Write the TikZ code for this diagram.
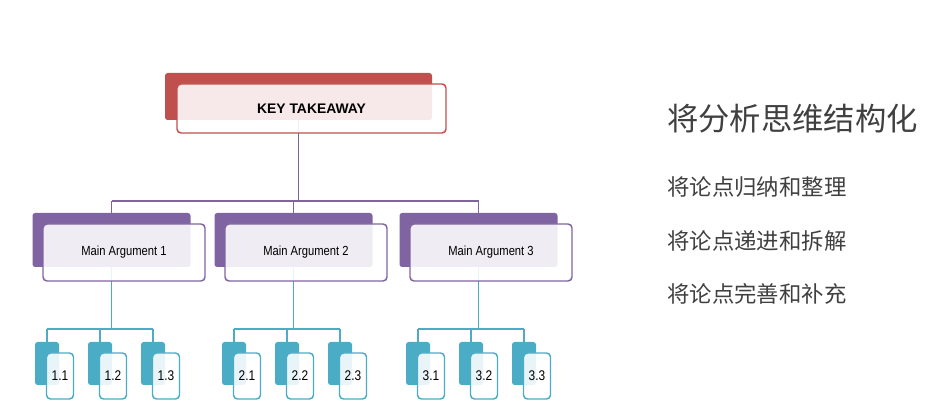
\documentclass[tikz,border=0pt]{standalone}
\usepackage{fontspec}
\setmainfont{Liberation Sans}
\newfontfamily\narrowfont[FakeStretch=0.85]{Liberation Sans}
\newfontfamily\cjkfont{Noto Sans CJK SC}
\definecolor{keyred}{HTML}{C0504D}
\definecolor{argpurple}{HTML}{8064A2}
\definecolor{subteal}{HTML}{4BACC6}
\definecolor{notegray}{HTML}{404040}
\pgfdeclarelayer{background}
\pgfsetlayers{background,main}

\begin{document}
\begin{tikzpicture}[x=0.75pt,y=-0.75pt,
    back/.style={rectangle, rounded corners=2pt, inner sep=0pt},
    front/.style={rectangle, rounded corners=3pt, inner sep=0pt, line width=1.1pt,
      fill=white, fill opacity=0.88, text opacity=1},
    link/.style={line width=1.4pt},
    note/.style={anchor=west, inner sep=0pt, text=notegray}]
\useasboundingbox (0,0) rectangle (943,416);

\node (keyb) [back, fill=keyred, minimum width=200.25pt, minimum height=35.25pt] at (298.5,96.5) {};
\node (key) [front, draw=keyred, minimum width=201.75pt, minimum height=36.75pt,
  font=\bfseries\fontsize{10.4}{12}\selectfont] at (311.5,108.5) {KEY TAKEAWAY};

\foreach \i/\x in {1/111.5,2/293.5,3/478.5} {
  \node (mab\i) [back, fill=argpurple, minimum width=118.5pt, minimum height=40.5pt] at (\x,240) {};
  \node (ma\i) [front, draw=argpurple, minimum width=121.5pt, minimum height=42.75pt,
    font=\narrowfont\fontsize{9.9}{11}\selectfont] at (\x+12.5,252.5) {Main Argument \i};
}

\foreach \i/\x in {1/47,2/234,3/418}
  \foreach \j in {1,2,3} {
    \node (sb\i\j) [back, fill=subteal, minimum width=18pt, minimum height=32.25pt] at (\x+53*\j-53,363.5) {};
    \node (s\i\j) [front, draw=subteal, minimum width=20.25pt, minimum height=34.5pt,
      font=\narrowfont\fontsize{10.5}{12}\selectfont] at (\x+53*\j-40,376) {\i.\j};
  }

\coordinate (kbus) at (0,201);
\coordinate (sbus) at (0,329);
\begin{pgfonlayer}{background}
  \draw[link, argpurple] (keyb.center) -- (keyb.center |- kbus)
    (mab1.center |- kbus) -- (mab3.center |- kbus);
  \foreach \i in {1,2,3} {
    \draw[link, argpurple] (mab\i.center |- kbus) -- (mab\i.center);
    \draw[link, subteal] (mab\i.center) -- (mab\i.center |- sbus)
      (sb\i1.center |- sbus) -- (sb\i3.center |- sbus);
    \foreach \j in {1,2,3}
      \draw[link, subteal] (sb\i\j.center |- sbus) -- (sb\i\j.center);
  }
\end{pgfonlayer}

\node (title) [note, font=\cjkfont\fontsize{23.5}{28}\selectfont] at (667,119) {将分析思维结构化};
\node (pt1) [note, font=\cjkfont\fontsize{16.8}{20}\selectfont] at (667,187.5) {将论点归纳和整理};
\node (pt2) [note, font=\cjkfont\fontsize{16.8}{20}\selectfont] at (667,241) {将论点递进和拆解};
\node (pt3) [note, font=\cjkfont\fontsize{16.8}{20}\selectfont] at (667,294) {将论点完善和补充};
\end{tikzpicture}
\end{document}
